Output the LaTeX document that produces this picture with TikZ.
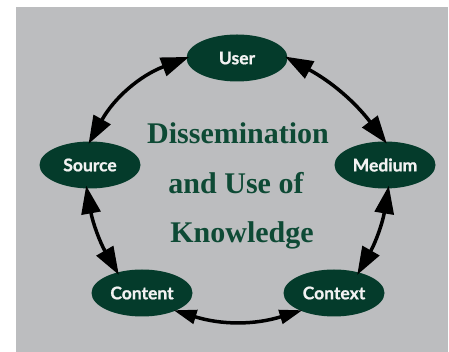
\documentclass[tikz,border=0pt]{standalone}
\usepackage{fontspec}
\setmainfont{Liberation Serif}
\newfontfamily\nodefont[BoldFeatures={FakeBold=0.8}]{Lato}
\usetikzlibrary{shapes.geometric,arrows.meta}
\definecolor{bggray}{HTML}{BCBDBF}
\definecolor{nodegreen}{HTML}{043B2B}
\definecolor{titlegreen}{HTML}{0E4A35}
\definecolor{nodetext}{HTML}{F2F2F2}
\tikzset{
  topic/.style={ellipse, fill=nodegreen, minimum width=101pt, minimum height=47pt,
    inner sep=0pt, text=nodetext, font=\nodefont\bfseries\fontsize{17.5}{20}\selectfont},
  titleline/.style={anchor=base, text=titlegreen, inner sep=0pt,
    font=\bfseries\fontsize{30}{34}\selectfont},
  link/.style={line width=3.5pt, black, {Triangle[length=28pt,width=19pt]}-{Triangle[length=28pt,width=19pt]},
    shorten <=-3pt, shorten >=-3pt},
  smalllink/.style={line width=3.5pt, black, {Triangle[length=23pt,width=14pt]}-{Triangle[length=23pt,width=14pt]},
    shorten <=-2pt, shorten >=-2pt}
}
\begin{document}
\begin{tikzpicture}[x=1pt,y=1pt]
\useasboundingbox (0,0) rectangle (449,352);
\fill[bggray] (16,0) rectangle (448,345);
\node[topic] (user) at (237,294) {User};
\node[topic] (source) at (90,187) {Source};
\node[topic] (medium) at (385,187) {Medium};
\node[topic] (content) at (142,59) {Content};
\node[topic] (context) at (334,59) {Context};
\node[titleline] (t1) at (238,208) {Dissemination};
\node[titleline] (t2) at (236,158) {and Use of};
\node[titleline] (t3) at (242,109) {Knowledge};
\draw[link] (source.north) to[bend left=20] (user.west);
\draw[link] (user.east) to[bend left=12] (medium.north);
\draw[link] (source.-98) to[bend right=10] (content.140);
\draw[link] (medium.-82) to[bend left=10] (context.40);
\draw[smalllink] (content.-28) to[bend right=17] (context.-152);
\end{tikzpicture}
\end{document}
